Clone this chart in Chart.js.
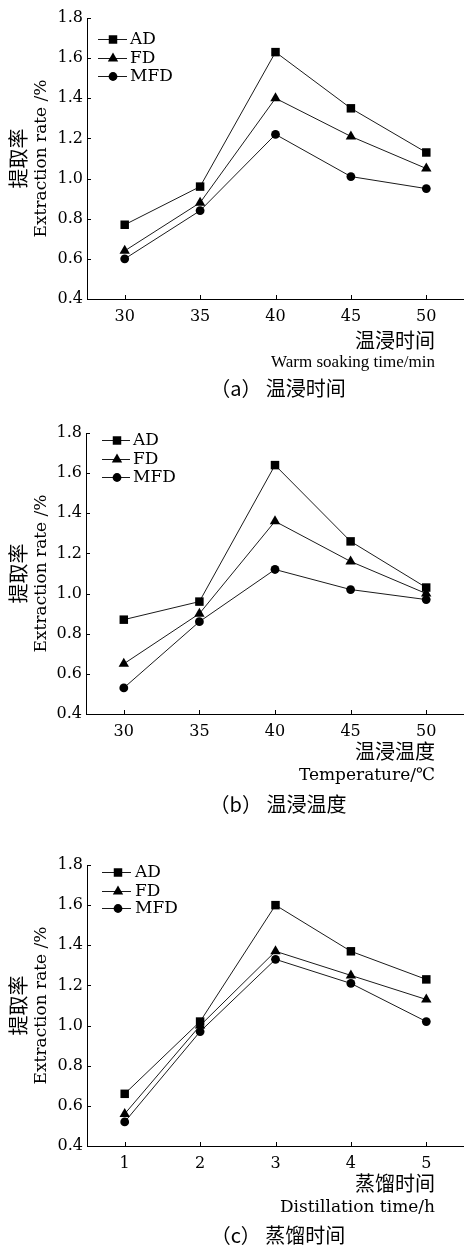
<!DOCTYPE html>
<html>
<head>
<meta charset="utf-8">
<script src="https://cdn.jsdelivr.net/npm/chart.js@4/dist/chart.umd.min.js"></script>
<style>
  html, body { margin: 0; padding: 0; background: #fff; overflow: hidden; }
  canvas { display: block; }
</style>
</head>
<body>
<canvas id="ca" width="464" height="415"></canvas>
<canvas id="cb" width="464" height="415"></canvas>
<canvas id="cc" width="464" height="415"></canvas>
<script>
// ---- data ----
const seriesNames = ['AD', 'FD', 'MFD'];
const yTickValues = [0.4, 0.6, 0.8, 1.0, 1.2, 1.4, 1.6, 1.8];

const xA = [30, 35, 40, 45, 50];
const adA = [0.77, 0.96, 1.63, 1.35, 1.13];
const fdA = [0.64, 0.88, 1.40, 1.21, 1.05];
const mfdA = [0.60, 0.84, 1.22, 1.01, 0.95];

const xB = [30, 35, 40, 45, 50];
const adB = [0.87, 0.96, 1.64, 1.26, 1.03];
const fdB = [0.65, 0.90, 1.36, 1.16, 1.00];
const mfdB = [0.53, 0.86, 1.12, 1.02, 0.97];

const xC = [1, 2, 3, 4, 5];
const adC = [0.66, 1.02, 1.60, 1.37, 1.23];
const fdC = [0.56, 1.00, 1.37, 1.25, 1.13];
const mfdC = [0.52, 0.97, 1.33, 1.21, 1.02];

const yTitleCn = '提取率';
const yTitleEn = 'Extraction rate /%';

const DIGIT_FONT = '"DejaVu Serif", "Liberation Serif", serif';
const EN_FONT = '"Liberation Serif", "DejaVu Serif", serif';
const CJK_FONT = '"Noto Sans CJK SC", sans-serif';

const styles = [
  { pointStyle: 'rect', pointRadius: 6 },
  { pointStyle: 'triangle', pointRadius: 6 },
  { pointStyle: 'circle', pointRadius: 4.4 }
];

function makeDatasets(xs, seriesList) {
  return seriesList.map((vals, i) => ({
    label: seriesNames[i],
    data: xs.map((x, j) => ({ x: x, y: vals[j] })),
    borderColor: '#1a1a1a',
    backgroundColor: '#000',
    borderWidth: 1,
    pointStyle: styles[i].pointStyle,
    pointRadius: styles[i].pointRadius,
    pointBackgroundColor: '#000',
    pointBorderColor: '#000',
    pointBorderWidth: 0,
    tension: 0,
    fill: false,
    clip: false
  }));
}

const decor = {
  id: 'decor',
  afterDraw(chart, args, o) {
    const { ctx, chartArea: ca, scales: { x, y } } = chart;
    ctx.save();
    ctx.strokeStyle = '#000';
    ctx.lineWidth = 1;
    // inward ticks
    ctx.beginPath();
    x.ticks.forEach(t => {
      const px = Math.round(x.getPixelForValue(t.value)) + 0.5;
      ctx.moveTo(px, ca.bottom);
      ctx.lineTo(px, ca.bottom - 4);
    });
    y.ticks.forEach(t => {
      const py = Math.round(y.getPixelForValue(t.value)) + 0.5;
      ctx.moveTo(ca.left, py);
      ctx.lineTo(ca.left + 4, py);
    });
    ctx.stroke();

    // legend inside plot
    const lg = o.legend;
    chart.data.datasets.forEach((ds, i) => {
      const ry = ca.top + lg.rows[i];
      ctx.strokeStyle = '#1a1a1a';
      ctx.lineWidth = 1;
      ctx.beginPath();
      ctx.moveTo(ca.left + lg.x0, ry + 0.5);
      ctx.lineTo(ca.left + lg.x1, ry + 0.5);
      ctx.stroke();
      ctx.fillStyle = '#000';
      Chart.helpers.drawPoint(ctx, {
        pointStyle: ds.pointStyle, radius: ds.pointRadius, rotation: 0, borderWidth: 0
      }, ca.left + lg.mx, ry + 0.5);
      ctx.fillStyle = '#000';
      ctx.font = '17px ' + DIGIT_FONT;
      ctx.textAlign = 'left';
      ctx.textBaseline = 'middle';
      ctx.fillText(ds.label, ca.left + lg.tx, ry + 1);
    });

    // y-axis title (rotated, two lines)
    const cy = (ca.top + ca.bottom) / 2;
    ctx.fillStyle = '#000';
    ctx.textAlign = 'center';
    ctx.textBaseline = 'middle';
    ctx.save();
    ctx.translate(18, cy);
    ctx.rotate(-Math.PI / 2);
    ctx.font = '20px ' + CJK_FONT;
    ctx.fillText(yTitleCn, 0, 0);
    ctx.restore();
    ctx.save();
    ctx.translate(42, cy);
    ctx.rotate(-Math.PI / 2);
    ctx.font = '17px ' + DIGIT_FONT;
    ctx.fillText(yTitleEn, 0, 0);
    ctx.restore();

    // x-axis titles (right aligned)
    ctx.textAlign = 'right';
    ctx.font = '20px ' + CJK_FONT;
    ctx.fillText(o.xCn, 435, ca.bottom + o.cnY);
    ctx.font = o.enFont;
    ctx.fillText(o.xEn, 435, ca.bottom + o.enY);

    // caption
    ctx.textAlign = 'center';
    ctx.font = '20px ' + CJK_FONT;
    ctx.fillText(o.caption, 278, ca.bottom + o.capY);
    ctx.restore();
  }
};

function makeChart(id, xs, series, cfg) {
  const H = 415;
  const plotH = 281;
  return new Chart(document.getElementById(id), {
    type: 'line',
    data: { datasets: makeDatasets(xs, series) },
    options: {
      responsive: false,
      animation: false,
      devicePixelRatio: 1,
      layout: { autoPadding: false, padding: { top: cfg.padTop, left: 0, right: 0, bottom: 0 } },
      plugins: {
        legend: { display: false },
        tooltip: { enabled: false },
        decor: cfg
      },
      scales: {
        x: {
          type: 'linear',
          min: cfg.xMin,
          max: cfg.xMax,
          afterBuildTicks: s => { s.ticks = xs.map(v => ({ value: v })); },
          afterFit: s => { s.height = H - cfg.padTop - plotH; },
          grid: { display: true, drawOnChartArea: false, drawTicks: false },
          border: { display: true, color: '#000', width: 1 },
          ticks: {
            color: '#000',
            padding: 8,
            font: { family: DIGIT_FONT, size: 16 },
            callback: v => String(v)
          }
        },
        y: {
          min: 0.4,
          max: 1.8,
          afterBuildTicks: s => { s.ticks = yTickValues.map(v => ({ value: v })); },
          afterFit: s => { s.width = cfg.yWidth; },
          grid: { display: true, drawOnChartArea: false, drawTicks: false },
          border: { display: true, color: '#000', width: 1 },
          ticks: {
            color: '#000',
            padding: 4,
            font: { family: DIGIT_FONT, size: 16 },
            callback: v => Number(v).toFixed(1)
          }
        }
      }
    },
    plugins: [decor]
  });
}

makeChart('ca', xA, [adA, fdA, mfdA], {
  padTop: 18, yWidth: 87, xMin: 27.5, xMax: 52.5,
  legend: { x0: 11, x1: 40, mx: 26, tx: 43, rows: [21, 40, 58] },
  xCn: '温浸时间', xEn: 'Warm soaking time/min', caption: '（a） 温浸时间',
  enFont: '17px ' + EN_FONT,
  cnY: 41, enY: 64, capY: 89
});
makeChart('cb', xB, [adB, fdB, mfdB], {
  padTop: 18, yWidth: 86, xMin: 27.5, xMax: 52.5,
  legend: { x0: 16, x1: 44, mx: 31, tx: 47, rows: [7, 26, 44] },
  xCn: '温浸温度', xEn: 'Temperature/℃', caption: '（b） 温浸温度',
  enFont: '17px ' + DIGIT_FONT,
  cnY: 37, enY: 62, capY: 90
});
makeChart('cc', xC, [adC, fdC, mfdC], {
  padTop: 35, yWidth: 87, xMin: 0.5, xMax: 5.5,
  legend: { x0: 15, x1: 44, mx: 31, tx: 48, rows: [7, 26, 43] },
  xCn: '蒸馏时间', xEn: 'Distillation time/h', caption: '（c） 蒸馏时间',
  enFont: '17px ' + DIGIT_FONT,
  cnY: 37, enY: 62, capY: 89
});
</script>
</body>
</html>
